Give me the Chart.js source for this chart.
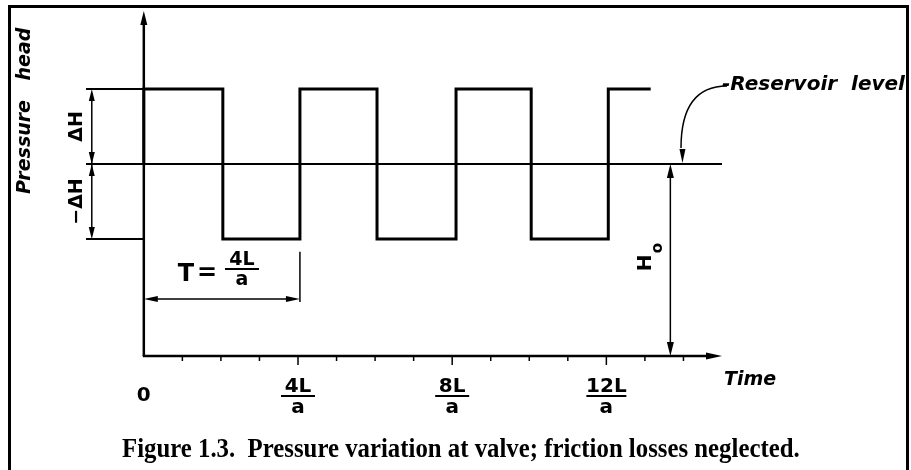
<!DOCTYPE html>
<html>
<head>
<meta charset="utf-8">
<script src="https://cdn.jsdelivr.net/npm/chart.js@4.4.1/dist/chart.umd.min.js"></script>
<style>
  html, body { margin: 0; padding: 0; background: #fff; }
  #fig { display: block; }
</style>
</head>
<body>
<canvas id="fig" width="911" height="470"></canvas>
<script>
// time in units of L/a, head in units of dH
var H0 = 2.56;
var DH = 1;
var waveTime = [0, 0, 2.05, 2.05, 4.05, 4.05, 6.05, 6.05, 8.1, 8.1, 10.05, 10.05, 12.05, 12.05, 13.15];
var waveHead = [2.56, 3.56, 3.56, 1.56, 1.56, 3.56, 3.56, 1.56, 1.56, 3.56, 3.56, 1.56, 1.56, 3.56, 3.56];
var reservoirTime = [-1.5, 15];
var reservoirHead = [2.56, 2.56];
var highExtTime = [-1.5, 0];
var highExtHead = [3.56, 3.56];
var lowExtTime = [-1.5, 0];
var lowExtHead = [1.56, 1.56];

var minorTicks = [1, 2, 3, 5, 6, 7, 9, 10, 11, 13, 14];
var labelTicks = [4, 8, 12];
var tickNumerators = ["4L", "8L", "12L"];
var tickDenominator = "a";

var caption = "Figure 1.3.  Pressure variation at valve; friction losses neglected.";

function pts(xs, ys) {
  return xs.map(function (x, i) { return { x: x, y: ys[i] }; });
}

function arrow(ctx, tx, ty, dx, dy, len, hw) {
  var px = -dy, py = dx;
  ctx.beginPath();
  ctx.moveTo(tx, ty);
  ctx.lineTo(tx - dx * len + px * hw, ty - dy * len + py * hw);
  ctx.lineTo(tx - dx * len - px * hw, ty - dy * len - py * hw);
  ctx.closePath();
  ctx.fill();
}

function line(ctx, x1, y1, x2, y2, w) {
  ctx.lineWidth = w;
  ctx.beginPath();
  ctx.moveTo(x1, y1);
  ctx.lineTo(x2, y2);
  ctx.stroke();
}

function rotText(ctx, txt, x, y) {
  ctx.save();
  ctx.translate(x, y);
  ctx.rotate(-Math.PI / 2);
  ctx.textAlign = "center";
  ctx.textBaseline = "middle";
  ctx.fillText(txt, 0, 0);
  ctx.restore();
}

function fraction(ctx, num, den, cx, cy, size, barW) {
  ctx.font = "bold " + size + "px 'DejaVu Sans'";
  ctx.textAlign = "center";
  ctx.textBaseline = "alphabetic";
  ctx.fillText(num, cx, cy - 4);
  line(ctx, cx - barW / 2, cy, cx + barW / 2, cy, 2);
  ctx.fillText(den, cx, cy + size * 0.85);
}

var figurePlugin = {
  id: "figure",
  afterDatasetsDraw: function (chart) {
    var ctx = chart.ctx;
    var xs = chart.scales.x, ys = chart.scales.y;
    var px = function (v) { return xs.getPixelForValue(v); };
    var py = function (v) { return ys.getPixelForValue(v); };
    ctx.save();
    ctx.strokeStyle = "#000";
    ctx.fillStyle = "#000";
    ctx.lineCap = "butt";

    // frame
    ctx.lineWidth = 3;
    ctx.strokeRect(9.5, 6.5, 898, 520);

    var x0 = px(0), y0 = py(0);
    // axes
    line(ctx, x0, y0, x0, py(4.6) + 8, 2.5);
    arrow(ctx, x0, py(4.6), 0, -1, 14, 3.5);
    line(ctx, x0 - 1, y0, px(15) - 10, y0, 2.5);
    arrow(ctx, px(15), y0, 1, 0, 16, 3.5);

    // ticks
    minorTicks.forEach(function (t) { line(ctx, px(t), y0, px(t), y0 + 5, 1.5); });
    labelTicks.forEach(function (t) { line(ctx, px(t), y0, px(t), y0 + 9, 1.5); });

    // tick labels
    ctx.font = "bold 20px 'DejaVu Sans'";
    ctx.textAlign = "center";
    ctx.textBaseline = "middle";
    ctx.fillText("0", x0, 396);
    labelTicks.forEach(function (t, i) {
      fraction(ctx, tickNumerators[i], tickDenominator, px(t), 396, 20, tickNumerators[i].length > 2 ? 40 : 34);
    });

    // Time label
    ctx.font = "italic bold 19px 'DejaVu Sans'";
    ctx.textAlign = "left";
    ctx.textBaseline = "alphabetic";
    ctx.fillText("Time", px(15) + 2, 385);

    // y axis title
    ctx.font = "italic bold 19px 'DejaVu Sans'";
    rotText(ctx, "Pressure", 25, 147);
    rotText(ctx, "head", 25, 54);

    // dH dimension
    var xd = px(-1.35);
    line(ctx, xd, py(H0 + DH) + 4, xd, py(H0 - DH) - 4, 1.5);
    arrow(ctx, xd, py(H0 + DH), 0, -1, 12, 3);
    arrow(ctx, xd, py(H0), 0, 1, 12, 3);
    arrow(ctx, xd, py(H0), 0, -1, 12, 3);
    arrow(ctx, xd, py(H0 - DH), 0, 1, 12, 3);
    ctx.font = "bold 19px 'DejaVu Sans'";
    rotText(ctx, "\u0394H", 77, py(H0 + DH / 2));
    rotText(ctx, "\u2212\u0394H", 77, py(H0 - DH / 2));

    // T dimension
    var yT = py(0.76);
    line(ctx, px(4.05), py(1.39), px(4.05), py(0.72), 1.5);
    line(ctx, x0 + 6, yT, px(4.05) - 6, yT, 1.5);
    arrow(ctx, x0, yT, -1, 0, 14, 3);
    arrow(ctx, px(4.05), yT, 1, 0, 14, 3);
    ctx.font = "bold 24px 'DejaVu Sans'";
    ctx.textAlign = "center";
    ctx.textBaseline = "middle";
    ctx.fillText("T", 186, 275);
    ctx.fillText("=", 207, 274);
    fraction(ctx, "4L", "a", 242, 269, 19, 34);

    // H0 dimension
    var xh = px(13.66);
    line(ctx, xh, py(H0) + 6, xh, y0 - 6, 1.5);
    arrow(ctx, xh, py(H0), 0, -1, 14, 3.5);
    arrow(ctx, xh, y0, 0, 1, 14, 3.5);
    ctx.font = "bold 20px 'DejaVu Sans'";
    rotText(ctx, "H", 646, 263);
    ctx.font = "bold 15px 'DejaVu Sans'";
    rotText(ctx, "o", 658, 248);

    // reservoir level leader
    var tipX = px(14), tipY = py(H0);
    ctx.lineWidth = 1.5;
    ctx.beginPath();
    ctx.moveTo(727, 86);
    ctx.bezierCurveTo(700, 86, 681, 102, 681, 148);
    ctx.stroke();
    arrow(ctx, tipX - 1, tipY - 1, 0, 1, 14, 3);
    ctx.font = "italic bold 20px 'DejaVu Sans'";
    ctx.textAlign = "left";
    ctx.textBaseline = "middle";
    ctx.fillText("-Reservoir  level", 722, 85, 186);

    // caption
    ctx.font = "bold 24px 'Liberation Serif'";
    var w = ctx.measureText(caption).width;
    var fs = 24 * 678 / w;
    ctx.font = "bold " + fs.toFixed(1) + "px 'Liberation Serif'";
    ctx.textAlign = "left";
    ctx.textBaseline = "alphabetic";
    ctx.save();
    ctx.translate(122, 457);
    ctx.scale(1, 1.12);
    ctx.fillText(caption, 0, 0);
    ctx.restore();

    ctx.restore();
  }
};

var lineStyle = { borderColor: "#000", pointRadius: 0, showLine: true, tension: 0, fill: false };

new Chart("fig", {
  type: "scatter",
  data: {
    datasets: [
      Object.assign({ label: "wave", data: pts(waveTime, waveHead), borderWidth: 3 }, lineStyle),
      Object.assign({ label: "reservoir", data: pts(reservoirTime, reservoirHead), borderWidth: 2 }, lineStyle),
      Object.assign({ label: "high", data: pts(highExtTime, highExtHead), borderWidth: 2 }, lineStyle),
      Object.assign({ label: "low", data: pts(lowExtTime, lowExtHead), borderWidth: 2 }, lineStyle)
    ]
  },
  options: {
    responsive: false,
    animation: false,
    devicePixelRatio: 1,
    layout: { padding: { left: 86, right: 189, top: 11, bottom: 114 } },
    plugins: { legend: { display: false }, tooltip: { enabled: false } },
    scales: {
      x: { type: "linear", min: -1.5, max: 15, display: false },
      y: { type: "linear", min: 0, max: 4.6, display: false }
    }
  },
  plugins: [figurePlugin]
});
</script>
</body>
</html>
